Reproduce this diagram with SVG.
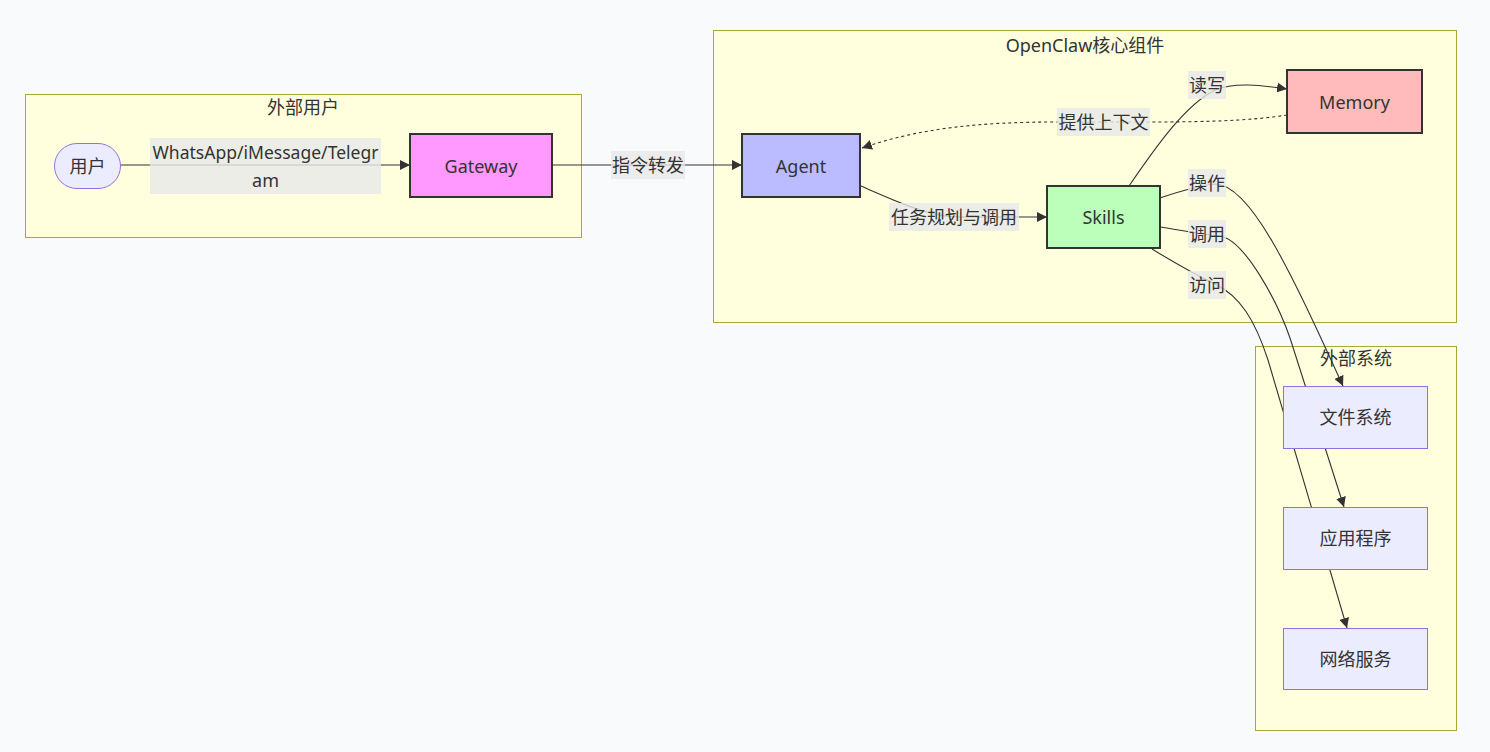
<svg xmlns="http://www.w3.org/2000/svg" width="1490" height="752" viewBox="0 0 1490 752">
<style>
text{font-family:"Noto Sans","Noto Sans CJK SC",sans-serif;font-size:18px;fill:#333;text-anchor:middle;dominant-baseline:central}
.cluster{fill:#ffffde;stroke:#aaaa33;stroke-width:1}
.edge{fill:none;stroke:#333;stroke-width:1.1}
.dotted{stroke-dasharray:3 3}
.lbl{fill:#e8e8e8;fill-opacity:0.8}
.def{fill:#ececff;stroke:#9370db;stroke-width:1}
.custom{stroke:#333;stroke-width:2}
</style>
<defs>
<marker id="arrow" viewBox="0 0 10 10" refX="10" refY="5" markerWidth="10" markerHeight="10" markerUnits="userSpaceOnUse" orient="auto">
<path d="M0,0 L10,5 L0,10 z" fill="#333"/>
</marker>
</defs>
<rect width="1490" height="752" fill="#f9fafb"/>
<g id="clusters">
<g id="cluster-users"><rect class="cluster" x="25.5" y="94.5" width="556" height="143"/><text x="303" y="107">外部用户</text></g>
<g id="cluster-core"><rect class="cluster" x="713.5" y="30.5" width="743" height="292"/><text x="1085" y="45">OpenClaw核心组件</text></g>
<g id="cluster-ext"><rect class="cluster" x="1255.5" y="346.5" width="201" height="384"/><text x="1356" y="358">外部系统</text></g>
</g>
<g id="connectors">
<path class="edge" d="M120,165 L410,165" marker-end="url(#arrow)"/>
<path class="edge" d="M552,165 L742,165" marker-end="url(#arrow)"/>
<path class="edge" d="M861,186 C900,203 930,217 960,217 L1047,217" marker-end="url(#arrow)"/>
<path class="edge dotted" d="M1287,115 C1250,121 1200,122 1150,122 L1057,122 C980,122 920,128 862,148" marker-end="url(#arrow)"/>
<path class="edge" d="M1129,186 C1155,148 1185,105 1215,90 C1235,82 1260,85 1287,89" marker-end="url(#arrow)"/>
<path class="edge" d="M1160,198 C1175,193 1195,186 1215,184 C1250,184 1290,270 1343,386" marker-end="url(#arrow)"/>
<path class="edge" d="M1160,227 C1180,230 1200,234 1220,236 C1245,240 1278,303 1290,338 L1344,507" marker-end="url(#arrow)"/>
<path class="edge" d="M1152,249 C1170,260 1190,272 1215,284 C1240,296 1255,320 1268,360 L1347,628" marker-end="url(#arrow)"/>
</g>
<g id="edge-labels">
<g><rect class="lbl" x="150" y="138" width="231" height="56"/><text x="265.5" y="152" textLength="226" lengthAdjust="spacingAndGlyphs">WhatsApp/iMessage/Telegr</text><text x="265.5" y="180">am</text></g>
<g><rect class="lbl" x="611" y="151" width="74" height="28"/><text x="648" y="165">指令转发</text></g>
<g><rect class="lbl" x="889" y="203" width="130" height="28"/><text x="954" y="217">任务规划与调用</text></g>
<g><rect class="lbl" x="1057" y="108" width="93" height="28"/><text x="1103.5" y="122">提供上下文</text></g>
<g><rect class="lbl" x="1188" y="71" width="38" height="28"/><text x="1207" y="85">读写</text></g>
<g><rect class="lbl" x="1188" y="169" width="38" height="28"/><text x="1207" y="183">操作</text></g>
<g><rect class="lbl" x="1188" y="220" width="38" height="28"/><text x="1207" y="234">调用</text></g>
<g><rect class="lbl" x="1188" y="271" width="38" height="28"/><text x="1207" y="285">访问</text></g>
</g>
<g id="node-user"><rect class="def" x="54.5" y="143.5" width="66" height="45" rx="22.5" ry="22.5"/><text x="87.5" y="166">用户</text></g>
<g id="node-gateway"><rect class="custom" fill="#ff99ff" x="410" y="134" width="142" height="63"/><text x="481" y="165.5">Gateway</text></g>
<g id="node-agent"><rect class="custom" fill="#bbbbff" x="742" y="134" width="118" height="63"/><text x="801" y="165.5">Agent</text></g>
<g id="node-skills"><rect class="custom" fill="#bbffbb" x="1047" y="186" width="113" height="62"/><text x="1103.5" y="217">Skills</text></g>
<g id="node-memory"><rect class="custom" fill="#ffbbbb" x="1287" y="70" width="135" height="63"/><text x="1354.5" y="102">Memory</text></g>
<g id="node-fs"><rect class="def" x="1283.5" y="386.5" width="144" height="62"/><text x="1355.5" y="417">文件系统</text></g>
<g id="node-app"><rect class="def" x="1283.5" y="507.5" width="144" height="62"/><text x="1355.5" y="538">应用程序</text></g>
<g id="node-web"><rect class="def" x="1283.5" y="628.5" width="144" height="61"/><text x="1355.5" y="658.5">网络服务</text></g>
</svg>
